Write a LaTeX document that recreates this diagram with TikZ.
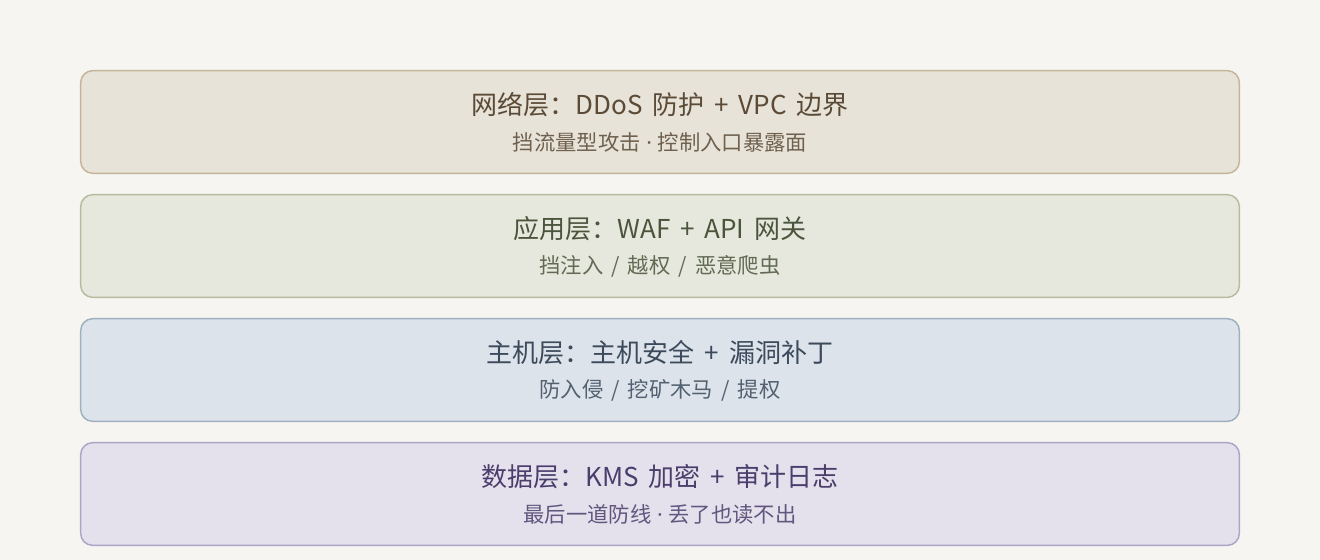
\documentclass[tikz,border=0pt]{standalone}
\usepackage{fontspec}
\setmainfont[WordSpace=1.7]{Noto Sans CJK SC}
\newfontfamily\dotfont{Noto Sans}
\usepackage{xcolor}
\usepackage{tikz}
\usetikzlibrary{positioning}
\definecolor{pagebg}{HTML}{F7F5F1}
\definecolor{netfill}{HTML}{E8E3D9}
\definecolor{netline}{HTML}{C4B49A}
\definecolor{nettext}{HTML}{5B4A36}
\definecolor{appfill}{HTML}{E6E8DE}
\definecolor{appline}{HTML}{B6BC9F}
\definecolor{apptext}{HTML}{4B553C}
\definecolor{hostfill}{HTML}{DCE3EA}
\definecolor{hostline}{HTML}{9EB0C0}
\definecolor{hosttext}{HTML}{3C4A5C}
\definecolor{datafill}{HTML}{E4E1EC}
\definecolor{dataline}{HTML}{ADA5C8}
\definecolor{datatext}{HTML}{4A3E6C}
\newcommand{\sepdot}{{\dotfont\ ·\ }}

\begin{document}
\begin{tikzpicture}[node distance=16pt]
    \tikzstyle{layerbox} = [rectangle, rounded corners=9pt, minimum width=869pt, minimum height=77pt, line width=1.1pt, inner sep=0pt, outer sep=0pt]
    \tikzstyle{layertitle} = [font=\fontsize{19.5pt}{22pt}\selectfont, inner sep=0pt]
    \tikzstyle{layersub} = [font=\fontsize{16pt}{18pt}\selectfont, inner sep=0pt, opacity=0.85]

    \fill [pagebg] (0,0) rectangle (990pt,-420pt);
    \useasboundingbox (0,0) rectangle (990pt,-420pt);

    \node [layerbox, draw=netline, fill=netfill] (net) at (495pt,-91.5pt) {};
    \node [layerbox, below=of net, draw=appline, fill=appfill] (app) {};
    \node [layerbox, below=of app, draw=hostline, fill=hostfill] (host) {};
    \node [layerbox, below=of host, draw=dataline, fill=datafill] (data) {};

    % Titles
    \node [layertitle, text=nettext] (nettitle) at ([yshift=12.75pt]net.center) {网络层：DDoS 防护 + VPC 边界};
    \node [layertitle, text=apptext] (apptitle) at ([yshift=12.75pt]app.center) {应用层：WAF + API 网关};
    \node [layertitle, text=hosttext] (hosttitle) at ([yshift=12.75pt]host.center) {主机层：主机安全 + 漏洞补丁};
    \node [layertitle, text=datatext] (datatitle) at ([yshift=12.75pt]data.center) {数据层：KMS 加密 + 审计日志};

    % Notes
    \node [layersub, text=nettext] (netsub) at ([yshift=-15pt]net.center) {挡流量型攻击\sepdot 控制入口暴露面};
    \node [layersub, text=apptext] (appsub) at ([yshift=-15pt]app.center) {挡注入 / 越权 / 恶意爬虫};
    \node [layersub, text=hosttext] (hostsub) at ([yshift=-15pt]host.center) {防入侵 / 挖矿木马 / 提权};
    \node [layersub, text=datatext] (datasub) at ([yshift=-15pt]data.center) {最后一道防线\sepdot 丢了也读不出};
\end{tikzpicture}
\end{document}
